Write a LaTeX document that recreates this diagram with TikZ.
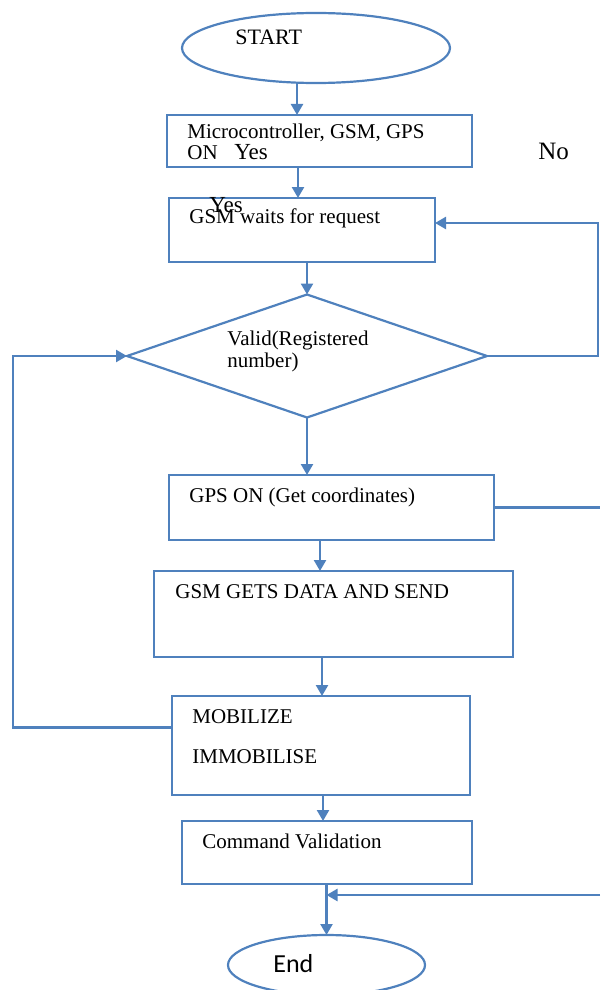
\documentclass[tikz,border=0pt]{standalone}
\usepackage{fontspec}
\setmainfont{Liberation Serif}
\newfontfamily\calfont{Carlito}
\usetikzlibrary{shapes.geometric,arrows.meta}
\definecolor{flowblue}{RGB}{79,129,189}

\begin{document}
\begin{tikzpicture}[x=0.5pt,y=-0.5pt,
    blk/.style={draw=flowblue,line width=1.2pt,rectangle,inner sep=0pt,outer sep=0pt},
    term/.style={draw=flowblue,line width=1.1pt,ellipse,inner sep=0pt,outer sep=0pt},
    cond/.style={draw=flowblue,line width=1.1pt,diamond,inner sep=0pt,outer sep=0pt},
    arr/.style={draw=flowblue,line width=1.2pt,-{Triangle[length=5.5pt,width=6pt]}},
    conn/.style={draw=flowblue,line width=1.2pt},
    txt/.style={anchor=base west,inner sep=0pt,font=\fontsize{10.5}{12}\selectfont},
    big/.style={font=\fontsize{11.5}{14}\selectfont}]
    \useasboundingbox (0,0) rectangle (600,990);

    \node (start) at (316,48) [term, minimum width=134pt, minimum height=35pt] {};
    \node (b1) at (319.5,141) [blk, minimum width=152.5pt, minimum height=26pt] {};
    \node (b2) at (302,230) [blk, minimum width=133pt, minimum height=32pt] {};
    \node (dia) at (307,356) [cond, minimum width=180pt, minimum height=61.5pt] {};
    \node (b3) at (331.5,507.5) [blk, minimum width=162.5pt, minimum height=32.5pt] {};
    \node (b4) at (333.5,614) [blk, minimum width=179.5pt, minimum height=43pt] {};
    \node (b5) at (321,745.5) [blk, minimum width=149pt, minimum height=49.5pt] {};
    \node (b6) at (327,852.5) [blk, minimum width=145pt, minimum height=31.5pt] {};
    \node (end) at (326.5,965) [term, minimum width=98.5pt, minimum height=30pt] {};

    \node (tstart) at (235,45) [txt, font=\fontsize{11}{13}\selectfont] {START};
    \node (t1a) at (187,139) [txt] {Microcontroller, GSM, GPS};
    \node (t1b) at (187,159) [txt] {ON};
    \node (yes1) at (234,160) [txt, big] {Yes};
    \node (no) at (538,160) [txt, font=\fontsize{12.5}{14}\selectfont] {No};
    \node (t2) at (189,223) [txt] {GSM waits for request};
    \node (yes2) at (209,212) [txt, big] {Yes};
    \node (tv1) at (227,345) [txt] {Valid(Registered};
    \node (tv2) at (227,367) [txt] {number)};
    \node (t3) at (189,502) [txt] {GPS ON (Get coordinates)};
    \node (t4) at (175,598) [txt] {GSM GETS DATA AND SEND};
    \node (t5a) at (192,723) [txt] {MOBILIZE};
    \node (t5b) at (192,763) [txt] {IMMOBILISE};
    \node (t6) at (202,848) [txt] {Command Validation};
    \node (tend) at (273,972) [txt, font=\calfont\fontsize{13}{15}\selectfont] {End};

    \coordinate (ret) at (600,895);

    \draw[arr] (start.south -| 297,0) -- (b1.north -| 297,0);
    \draw[arr] (b1.south -| 298,0) -- (b2.north -| 298,0);
    \draw[arr] (b2.south -| dia.north) -- (dia.north);
    \draw[arr] (dia.south) -- (b3.north -| dia.south);
    \draw[arr] (b3.south -| 320,0) -- (b4.north -| 320,0);
    \draw[arr] (b4.south -| 322,0) -- (b5.north -| 322,0);
    \draw[arr] (b5.south -| 323,0) -- (b6.north -| 323,0);
    \draw[arr] (b6.south -| end.north) -- (end.north);

    \draw[arr] (dia.east) -- ++(111,0) |- ([yshift=3.5pt]b2.east);
    \draw[arr] ([yshift=9pt]b5.west) -- ++(-159,0) |- (dia.west);
    \draw[conn] (b3.east) -- ++(106,0);
    \draw[arr] (ret) -- (ret -| end.north);
\end{tikzpicture}
\end{document}
